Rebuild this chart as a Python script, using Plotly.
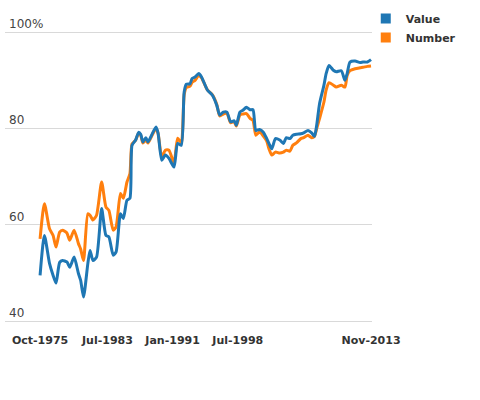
import plotly.graph_objects as go

dates = ["1975-10", "1976-04", "1976-11", "1977-04", "1977-08", "1978-01", "1978-05", "1978-11",
         "1979-03", "1979-09", "1980-03", "1980-06", "1980-10", "1981-04", "1981-07", "1981-11",
         "1982-04", "1982-11", "1983-05", "1983-09", "1984-03", "1984-07", "1985-01", "1985-05",
         "1985-10", "1986-02", "1986-05", "1986-10", "1987-02", "1987-05", "1987-08", "1987-12",
         "1988-03", "1988-08", "1989-02", "1989-05", "1989-10", "1990-03", "1990-08", "1991-03",
         "1991-08", "1992-01", "1992-05", "1992-08", "1993-01", "1993-04", "1993-08", "1994-01",
         "1994-05", "1995-01", "1995-08", "1996-02", "1996-06", "1996-11", "1997-04", "1997-09",
         "1998-02", "1998-05", "1998-10", "1999-02", "1999-07", "1999-12", "2000-04", "2000-08",
         "2001-01", "2001-06", "2001-11", "2002-02", "2002-06", "2002-11", "2003-05", "2003-10",
         "2004-02", "2004-07", "2004-11", "2005-04", "2005-10", "2006-02", "2006-08", "2007-01",
         "2007-05", "2007-08", "2007-12", "2008-06", "2008-09", "2009-01", "2009-07", "2009-11",
         "2010-06", "2010-11", "2011-02", "2011-06", "2012-01", "2012-08", "2012-12", "2013-06",
         "2013-11"]

value = [49.5, 57.8, 52.0, 49.5, 47.9, 52.2, 52.6, 52.3,
         51.2, 53.3, 49.9, 48.5, 45.0, 52.0, 54.7, 52.6,
         53.3, 63.4, 57.8, 57.5, 53.7, 54.4, 62.3, 61.3,
         65.1, 65.5, 76.5, 77.6, 79.2, 78.8, 77.2, 78.1,
         77.2, 78.6, 80.3, 79.0, 73.4, 74.5, 73.8, 72.0,
         76.9, 76.5, 87.6, 89.2, 89.3, 90.4, 90.7, 91.4,
         90.7, 88.0, 86.9, 84.8, 82.8, 83.4, 83.4, 81.4,
         81.6, 80.7, 83.4, 83.8, 84.4, 83.9, 83.9, 79.6,
         79.8, 79.3, 77.9, 76.9, 75.8, 77.9, 77.6, 76.9,
         78.1, 77.9, 78.6, 78.8, 78.9, 79.1, 79.6, 79.1,
         78.4, 80.7, 85.2, 89.0, 91.4, 93.1, 92.1, 91.8,
         92.0, 90.0, 91.4, 93.8, 94.0, 93.7, 93.8, 93.8,
         94.3]

number = [57.1, 64.4, 59.2, 57.8, 55.4, 58.5, 58.9, 58.3,
          56.8, 58.9, 56.1, 55.0, 52.6, 62.3, 62.0, 61.0,
          62.0, 68.9, 63.7, 63.0, 58.9, 59.6, 66.5, 65.5,
          68.9, 70.6, 76.8, 77.6, 79.0, 78.6, 77.0, 77.6,
          77.0, 78.4, 80.0, 79.0, 74.0, 75.5, 75.5, 72.8,
          78.0, 77.0, 87.0, 88.5, 88.8, 89.6, 90.0, 91.0,
          90.5, 88.0, 87.0, 85.0, 82.6, 83.0, 83.2, 81.2,
          81.4, 80.5, 82.8, 83.0, 83.1, 82.1, 81.7, 78.6,
          79.3, 78.5, 77.4, 75.8, 74.5, 75.1, 74.9, 75.1,
          75.5, 75.3, 76.5, 77.0, 77.9, 78.1, 78.6, 78.1,
          78.4, 80.0, 82.1, 85.5, 88.0, 89.5, 89.0, 88.6,
          89.0, 88.6, 91.0, 92.0, 92.4, 92.6, 92.7, 92.9,
          93.0]

x_tickvals = ["1975-10-01", "1983-07-01", "1991-01-01", "1998-07-01", "2013-11-01"]
x_ticktext = ["Oct-1975", "Jul-1983", "Jan-1991", "Jul-1998", "Nov-2013"]
x_range = ["1971-09-18", "2013-12-12"]
y_tickvals = [40, 60, 80, 100]
y_ticktext = ["40", "60", "80", "100%"]
y_range = [39, 103.98]

BLUE = "#1f77b4"
ORANGE = "#ff7f0e"

fig = go.Figure()
fig.add_trace(go.Scatter(x=dates, y=number, mode="lines", name="Number",
                         line=dict(color=ORANGE, width=3, shape="spline", smoothing=0.6),
                         showlegend=False, hoverinfo="skip"))
fig.add_trace(go.Scatter(x=dates, y=value, mode="lines", name="Value",
                         line=dict(color=BLUE, width=3, shape="spline", smoothing=0.6),
                         showlegend=False, hoverinfo="skip"))
# invisible carriers so the label axes (x2, y2) are drawn
fig.add_trace(go.Scatter(x=dates, y=value, mode="lines", yaxis="y2", opacity=0,
                         line=dict(width=0), showlegend=False, hoverinfo="skip"))
fig.add_trace(go.Scatter(x=dates, y=value, mode="lines", xaxis="x2", opacity=0,
                         line=dict(width=0), showlegend=False, hoverinfo="skip"))
# legend entries with square swatches
fig.add_trace(go.Scatter(x=[None], y=[None], mode="markers", name="Value",
                         marker=dict(symbol="square", size=10, color=BLUE)))
fig.add_trace(go.Scatter(x=[None], y=[None], mode="markers", name="Number",
                         marker=dict(symbol="square", size=10, color=ORANGE)))

fig.update_layout(
    width=480, height=400,
    margin=dict(l=5, r=108, t=13, b=74, autoexpand=False),
    paper_bgcolor="white", plot_bgcolor="white",
    font=dict(family="DejaVu Sans", color="#333333"),
    legend=dict(x=0.762, y=0.99, xanchor="left", yanchor="top",
                xref="container", yref="container",
                font=dict(size=11, family="DejaVu Sans", weight="bold", color="#333333"),
                tracegroupgap=0, itemwidth=30, traceorder="normal",
                bgcolor="rgba(0,0,0,0)"),
    xaxis=dict(type="date", range=x_range, automargin=False,
               showgrid=False, zeroline=False, showline=False, showticklabels=False),
    xaxis2=dict(type="date", range=x_range, automargin=False,
                overlaying="x", anchor="free", position=0, side="bottom",
                tickvals=x_tickvals, ticktext=x_ticktext,
                showgrid=False, zeroline=False, showline=False,
                ticks="outside", ticklen=4, tickcolor="rgba(0,0,0,0)",
                tickfont=dict(size=11, family="DejaVu Sans", weight="bold", color="#333333")),
    yaxis=dict(range=y_range, tickvals=y_tickvals, automargin=False,
               showgrid=True, gridcolor="#d9d9d9", gridwidth=1,
               zeroline=False, showline=False, showticklabels=False),
    yaxis2=dict(range=y_range, tickvals=y_tickvals, ticktext=y_ticktext, automargin=False,
                overlaying="y", anchor="free", position=0, side="left",
                showgrid=False, zeroline=False, showline=False,
                ticklabelposition="inside top",
                tickfont=dict(size=12, family="DejaVu Sans", color="#444444")),
)

fig.write_html("out.html", config={"displayModeBar": False},
               post_script="document.body.style.margin='0';")
